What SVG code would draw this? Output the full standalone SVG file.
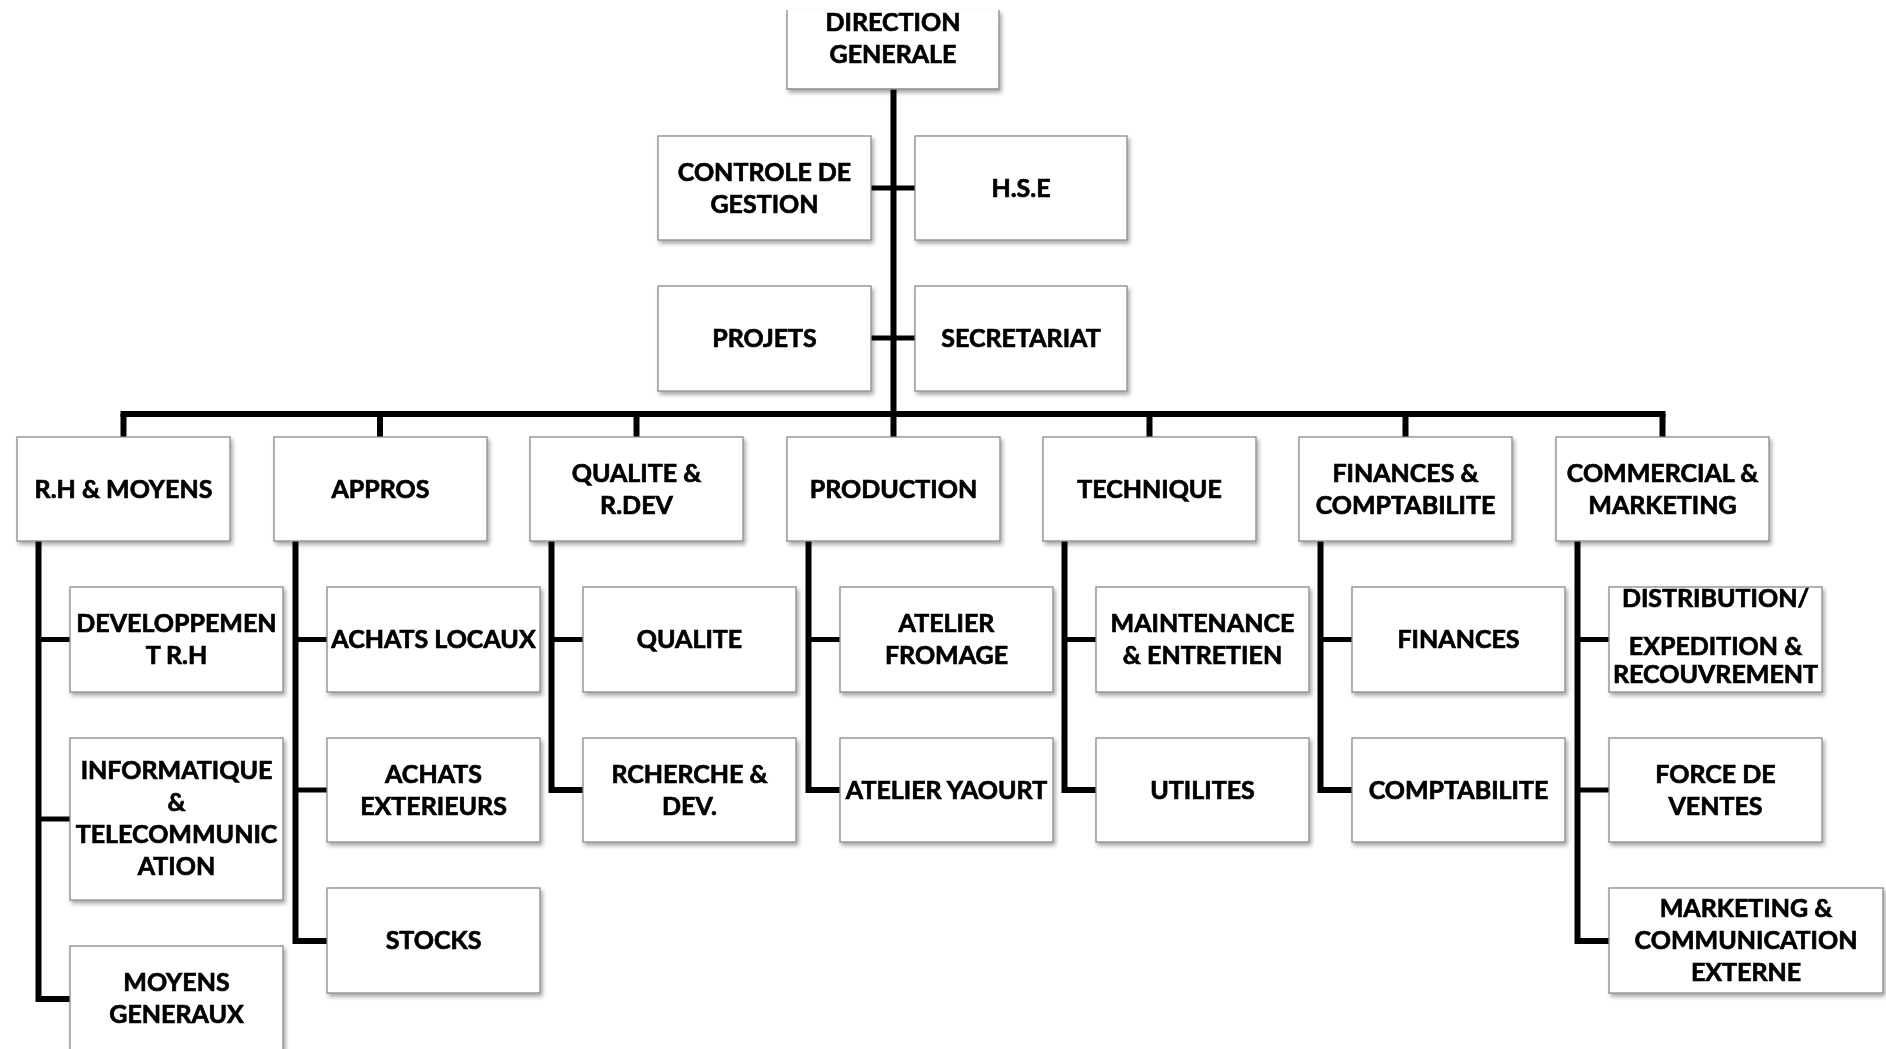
<svg xmlns="http://www.w3.org/2000/svg" width="1886" height="1049" viewBox="0 0 1886 1049">
  <defs>
    <filter id="sh" x="-10%" y="-10%" width="130%" height="140%">
      <feDropShadow dx="2" dy="3" stdDeviation="2" flood-color="#000" flood-opacity="0.35"/>
    </filter>
  </defs>
  <style>
    .box { fill: #ffffff; stroke: #8a8a8a; stroke-width: 1.3; }
    .node { filter: url(#sh); }
    .t { font-family: Lato, "Open Sans", "Liberation Sans", sans-serif; font-weight: 700; font-size: 25px; fill: #000; stroke: #000; stroke-width: 0.7; text-anchor: middle; }
    .trunk { fill: none; stroke: #000; stroke-width: 6; stroke-linejoin: miter; stroke-linecap: butt; }
    .arm { fill: none; stroke: #000; stroke-width: 5; stroke-linejoin: miter; stroke-linecap: butt; }
  </style>

  <rect width="1886" height="1049" fill="#ffffff"/>

  <!-- connectors -->
  <g id="connectors">
    <!-- main trunk and distribution bar -->
    <path class="trunk" d="M893.5,89 V414"/>
    <path class="trunk" d="M120.5,414 H1665.5"/>
    <path class="arm" d="M871,188 H915 M871,338 H915"/>
    <!-- drops to departments -->
    <path class="trunk" d="M123.5,414 V437 M380,414 V437 M636.5,414 V437 M893.5,414 V437 M1149.5,414 V437 M1405.5,414 V437 M1662.5,414 V437"/>
    <!-- R.H & MOYENS -->
    <path class="trunk" d="M38.5,541 V999 H70"/>
    <path class="arm" d="M38.5,639.5 H70 M38.5,819 H70"/>
    <!-- APPROS -->
    <path class="trunk" d="M295.5,541 V941 H327"/>
    <path class="arm" d="M295.5,639.5 H327 M295.5,790 H327"/>
    <!-- QUALITE & R.DEV -->
    <path class="trunk" d="M551.5,541 V790 H583"/>
    <path class="arm" d="M551.5,639.5 H583"/>
    <!-- PRODUCTION -->
    <path class="trunk" d="M808.5,541 V790 H840"/>
    <path class="arm" d="M808.5,639.5 H840"/>
    <!-- TECHNIQUE -->
    <path class="trunk" d="M1064.5,541 V790 H1096"/>
    <path class="arm" d="M1064.5,639.5 H1096"/>
    <!-- FINANCES & COMPTABILITE -->
    <path class="trunk" d="M1320.5,541 V790 H1352"/>
    <path class="arm" d="M1320.5,639.5 H1352"/>
    <!-- COMMERCIAL & MARKETING -->
    <path class="trunk" d="M1577.5,541 V941 H1609"/>
    <path class="arm" d="M1577.5,639.5 H1609 M1577.5,790 H1609"/>
  </g>

  <!-- top management -->
  <g id="direction-generale" class="node">
    <rect x="787" y="10" width="212" height="79" fill="#fff"/>
    <path d="M787,10 V89 H999 V10" fill="none" stroke="#8a8a8a" stroke-width="1.3"/>
    <text class="t" x="893" y="30.5">DIRECTION</text>
    <text class="t" x="893" y="63">GENERALE</text>
  </g>
  <g id="controle-de-gestion" class="node">
    <rect class="box" x="658" y="136" width="213" height="104"/>
    <text class="t" x="764.5" y="180.5">CONTROLE DE</text>
    <text class="t" x="764.5" y="212.5">GESTION</text>
  </g>
  <g id="hse" class="node">
    <rect class="box" x="915" y="136" width="212" height="104"/>
    <text class="t" x="1021" y="196.5">H.S.E</text>
  </g>
  <g id="projets" class="node">
    <rect class="box" x="658" y="286" width="213" height="105"/>
    <text class="t" x="764.5" y="347">PROJETS</text>
  </g>
  <g id="secretariat" class="node">
    <rect class="box" x="915" y="286" width="212" height="105"/>
    <text class="t" x="1021" y="347">SECRETARIAT</text>
  </g>

  <!-- departments -->
  <g id="rh-moyens" class="node">
    <rect class="box" x="17" y="437" width="213" height="104"/>
    <text class="t" x="123.5" y="498">R.H &amp; MOYENS</text>
  </g>
  <g id="appros" class="node">
    <rect class="box" x="274" y="437" width="213" height="104"/>
    <text class="t" x="380.5" y="498">APPROS</text>
  </g>
  <g id="qualite-rdev" class="node">
    <rect class="box" x="530" y="437" width="213" height="104"/>
    <text class="t" x="636.5" y="481.5">QUALITE &amp;</text>
    <text class="t" x="636.5" y="513.5">R.DEV</text>
  </g>
  <g id="production" class="node">
    <rect class="box" x="787" y="437" width="213" height="104"/>
    <text class="t" x="893.5" y="498">PRODUCTION</text>
  </g>
  <g id="technique" class="node">
    <rect class="box" x="1043" y="437" width="213" height="104"/>
    <text class="t" x="1149.5" y="498">TECHNIQUE</text>
  </g>
  <g id="finances-comptabilite" class="node">
    <rect class="box" x="1299" y="437" width="213" height="104"/>
    <text class="t" x="1405.5" y="481.5">FINANCES &amp;</text>
    <text class="t" x="1405.5" y="513.5">COMPTABILITE</text>
  </g>
  <g id="commercial-marketing" class="node">
    <rect class="box" x="1556" y="437" width="213" height="104"/>
    <text class="t" x="1662.5" y="481.5">COMMERCIAL &amp;</text>
    <text class="t" x="1662.5" y="513.5">MARKETING</text>
  </g>

  <!-- R.H & MOYENS services -->
  <g id="developpement-rh" class="node">
    <rect class="box" x="70" y="587" width="213" height="105"/>
    <text class="t" x="176.5" y="632">DEVELOPPEMEN</text>
    <text class="t" x="176.5" y="664">T R.H</text>
  </g>
  <g id="informatique" class="node">
    <rect class="box" x="70" y="738" width="213" height="162"/>
    <text class="t" x="176.5" y="779">INFORMATIQUE</text>
    <text class="t" x="176.5" y="811">&amp;</text>
    <text class="t" x="176.5" y="843">TELECOMMUNIC</text>
    <text class="t" x="176.5" y="875">ATION</text>
  </g>
  <g id="moyens-generaux" class="node">
    <rect class="box" x="70" y="946" width="213" height="105"/>
    <text class="t" x="176.5" y="991">MOYENS</text>
    <text class="t" x="176.5" y="1023">GENERAUX</text>
  </g>

  <!-- APPROS services -->
  <g id="achats-locaux" class="node">
    <rect class="box" x="327" y="587" width="213" height="105"/>
    <text class="t" x="433.5" y="648">ACHATS LOCAUX</text>
  </g>
  <g id="achats-exterieurs" class="node">
    <rect class="box" x="327" y="738" width="213" height="104"/>
    <text class="t" x="433.5" y="782.5">ACHATS</text>
    <text class="t" x="433.5" y="814.5">EXTERIEURS</text>
  </g>
  <g id="stocks" class="node">
    <rect class="box" x="327" y="888" width="213" height="105"/>
    <text class="t" x="433.5" y="949">STOCKS</text>
  </g>

  <!-- QUALITE & R.DEV services -->
  <g id="qualite" class="node">
    <rect class="box" x="583" y="587" width="213" height="105"/>
    <text class="t" x="689.5" y="648">QUALITE</text>
  </g>
  <g id="recherche-dev" class="node">
    <rect class="box" x="583" y="738" width="213" height="104"/>
    <text class="t" x="689.5" y="782.5">RCHERCHE &amp;</text>
    <text class="t" x="689.5" y="814.5">DEV.</text>
  </g>

  <!-- PRODUCTION services -->
  <g id="atelier-fromage" class="node">
    <rect class="box" x="840" y="587" width="213" height="105"/>
    <text class="t" x="946.5" y="632">ATELIER</text>
    <text class="t" x="946.5" y="664">FROMAGE</text>
  </g>
  <g id="atelier-yaourt" class="node">
    <rect class="box" x="840" y="738" width="213" height="104"/>
    <text class="t" x="946.5" y="798.5">ATELIER YAOURT</text>
  </g>

  <!-- TECHNIQUE services -->
  <g id="maintenance" class="node">
    <rect class="box" x="1096" y="587" width="213" height="105"/>
    <text class="t" x="1202.5" y="632">MAINTENANCE</text>
    <text class="t" x="1202.5" y="664">&amp; ENTRETIEN</text>
  </g>
  <g id="utilites" class="node">
    <rect class="box" x="1096" y="738" width="213" height="104"/>
    <text class="t" x="1202.5" y="798.5">UTILITES</text>
  </g>

  <!-- FINANCES & COMPTABILITE services -->
  <g id="finances" class="node">
    <rect class="box" x="1352" y="587" width="213" height="105"/>
    <text class="t" x="1458.5" y="648">FINANCES</text>
  </g>
  <g id="comptabilite" class="node">
    <rect class="box" x="1352" y="738" width="213" height="104"/>
    <text class="t" x="1458.5" y="798.5">COMPTABILITE</text>
  </g>

  <!-- COMMERCIAL & MARKETING services -->
  <g id="distribution" class="node">
    <rect class="box" x="1609" y="587" width="213" height="105"/>
    <text class="t" x="1715.5" y="607">DISTRIBUTION/</text>
    <text class="t" x="1715.5" y="655">EXPEDITION &amp;</text>
    <text class="t" x="1715.5" y="683">RECOUVREMENT</text>
  </g>
  <g id="force-de-ventes" class="node">
    <rect class="box" x="1609" y="738" width="213" height="104"/>
    <text class="t" x="1715.5" y="782.5">FORCE DE</text>
    <text class="t" x="1715.5" y="814.5">VENTES</text>
  </g>
  <g id="marketing-communication" class="node">
    <rect class="box" x="1609" y="888" width="274" height="105"/>
    <text class="t" x="1746" y="917">MARKETING &amp;</text>
    <text class="t" x="1746" y="949">COMMUNICATION</text>
    <text class="t" x="1746" y="981">EXTERNE</text>
  </g>
</svg>
